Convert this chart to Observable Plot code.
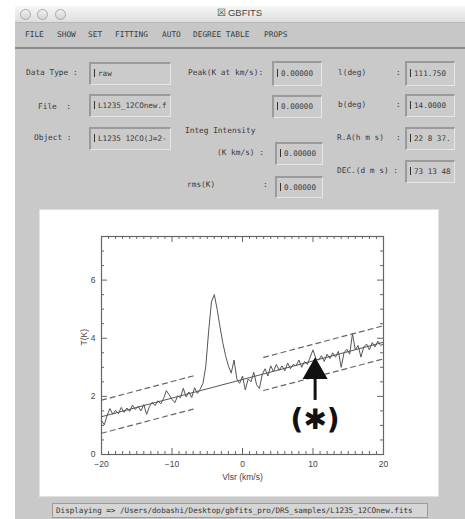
<!DOCTYPE html>
<html><head><meta charset="utf-8">
<script src="https://cdn.jsdelivr.net/npm/d3@7"></script>
<script src="https://cdn.jsdelivr.net/npm/@observablehq/plot@0.6"></script>
<style>
body{margin:0;background:#fff;width:465px;height:519px;overflow:hidden;position:relative;font-family:"DejaVu Sans Mono",monospace;color:#333;}
.abs{position:absolute;}
.win{left:15px;top:6px;width:450px;height:513px;background:#c9c9c9;}
.title{left:15px;top:6px;width:450px;height:16px;background:linear-gradient(#f6f6f6,#dedede);border-bottom:1px solid #b8b8b8;}
.light{width:9px;height:9px;border-radius:50%;border:1px solid #a9a9a9;background:linear-gradient(#f0f0f0,#d4d4d4);top:9px;}
.menu{left:15px;top:23px;width:450px;height:24px;background:#c7c7c7;border-bottom:2px solid #8c8c8c;}
.t{font-size:7.8px;line-height:10px;white-space:pre;color:#3a3a3a;}
.f{background:#cbcbcb;border-top:2px solid #9b9b9b;border-left:2px solid #9b9b9b;border-bottom:1px solid #e6e6e6;border-right:1px solid #e6e6e6;box-sizing:border-box;font-size:7.6px;line-height:10px;white-space:pre;color:#3a3a3a;padding:5px 0 0 3px;}
.cur{display:inline-block;width:2px;height:8px;border-left:1px solid #333;vertical-align:-1px;margin-right:1px;}
.panel{left:40px;top:210px;width:398px;height:286px;background:#fff;box-shadow:0 0 0 1px #e2e2e2;}
.status{left:52px;top:503px;width:376px;height:15px;background:#d6d6d6;border:1px solid #9c9c9c;box-sizing:border-box;font-size:7.6px;line-height:13px;white-space:pre;padding-left:3px;color:#333;}
</style></head>
<body>
<div class="abs win"></div>
<div class="abs title"></div>
<div class="abs light" style="left:20px"></div>
<div class="abs light" style="left:37px"></div>
<div class="abs light" style="left:55px"></div>
<div class="abs t" style="left:217px;top:8px;font-family:'Liberation Sans',sans-serif;font-size:9.5px;color:#444">&#x2612;&#x2009;GBFITS</div>
<div class="abs menu"></div>
<div class="abs t" style="left:25px;top:30px">FILE</div>
<div class="abs t" style="left:57px;top:30px">SHOW</div>
<div class="abs t" style="left:88px;top:30px">SET</div>
<div class="abs t" style="left:115px;top:30px">FITTING</div>
<div class="abs t" style="left:162px;top:30px">AUTO</div>
<div class="abs t" style="left:193px;top:30px">DEGREE TABLE</div>
<div class="abs t" style="left:264px;top:30px">PROPS</div>

<div class="abs t" style="left:26px;top:68px">Data Type :</div>
<div class="abs t" style="left:38px;top:102px">File  :</div>
<div class="abs t" style="left:34px;top:133px">Object :</div>
<div class="abs f" style="left:89px;top:62px;width:82px;height:23px"><span class="cur"></span>raw</div>
<div class="abs f" style="left:89px;top:94px;width:82px;height:23px"><span class="cur"></span>L1235_12COnew.f</div>
<div class="abs f" style="left:89px;top:127px;width:82px;height:23px"><span class="cur"></span>L1235 12CO(J=2-</div>

<div class="abs t" style="left:188px;top:68px">Peak(K at km/s):</div>
<div class="abs f" style="left:272px;top:61px;width:50px;height:25px;padding-top:6px"><span class="cur"></span>0.00000</div>
<div class="abs f" style="left:272px;top:95px;width:50px;height:23px"><span class="cur"></span>0.00000</div>
<div class="abs t" style="left:185px;top:126px">Integ Intensity</div>
<div class="abs t" style="left:217px;top:148px">(K km/s) :</div>
<div class="abs f" style="left:275px;top:142px;width:48px;height:23px"><span class="cur"></span>0.00000</div>
<div class="abs t" style="left:187px;top:180px">rms(K)</div>
<div class="abs t" style="left:263px;top:180px">:</div>
<div class="abs f" style="left:275px;top:176px;width:48px;height:22px"><span class="cur"></span>0.00000</div>

<div class="abs t" style="left:338px;top:68px">l(deg)</div>
<div class="abs t" style="left:396px;top:68px">:</div>
<div class="abs f" style="left:405px;top:61px;width:50px;height:25px;padding-top:6px"><span class="cur"></span>111.750</div>
<div class="abs t" style="left:338px;top:100px">b(deg)</div>
<div class="abs t" style="left:396px;top:100px">:</div>
<div class="abs f" style="left:405px;top:94px;width:50px;height:23px"><span class="cur"></span>14.0000</div>
<div class="abs t" style="left:337px;top:133px">R.A(h m s)</div>
<div class="abs t" style="left:396px;top:133px">:</div>
<div class="abs f" style="left:405px;top:127px;width:50px;height:23px"><span class="cur"></span>22 8 37.</div>
<div class="abs t" style="left:337px;top:166px">DEC.(d m s) :</div>
<div class="abs f" style="left:405px;top:160px;width:50px;height:23px"><span class="cur"></span>73 13 48</div>

<div class="abs panel" id="chart"></div>
<div class="abs status">Displaying =&gt; /Users/dobashi/Desktop/gbfits_pro/DRS_samples/L1235_12COnew.fits</div>

<script>
// ---- data ----
const velocity = [-20,-19.6,-19.2,-18.8,-18.4,-18,-17.6,-17.2,-16.8,-16.4,-16,-15.6,-15.2,-14.8,-14.4,-14,-13.6,-13.2,-12.8,-12.4,-12,-11.6,-11.2,-10.8,-10.4,-10,-9.6,-9.2,-8.8,-8.4,-8,-7.6,-7.2,-6.8,-6.4,-6,-5.6,-5.2,-4.8,-4.4,-4,-3.6,-3.2,-2.8,-2.4,-2,-1.6,-1.2,-0.8,-0.4,0,0.4,0.8,1.2,1.6,2,2.4,2.8,3.2,3.6,4,4.4,4.8,5.2,5.6,6,6.4,6.8,7.2,7.6,8,8.4,8.8,9.2,9.6,10,10.4,10.8,11.2,11.6,12,12.4,12.8,13.2,13.6,14,14.4,14.8,15.2,15.6,16,16.4,16.8,17.2,17.6,18,18.4,18.8,19.2,19.6,20];
const temperature = [1.17,1.02,1.35,1.58,1.38,1.52,1.40,1.62,1.45,1.60,1.48,1.70,1.55,1.66,1.50,1.72,1.38,1.65,1.80,1.68,1.85,1.74,1.92,2.20,2.05,1.90,1.78,2.02,1.95,2.28,1.98,2.15,1.96,2.30,2.10,2.25,2.45,3.05,4.25,5.25,5.50,5.00,4.40,3.85,3.40,3.05,2.80,3.25,2.60,2.45,2.70,2.22,2.60,2.50,2.83,2.40,2.27,2.75,2.95,2.70,3.05,2.85,3.10,2.90,3.05,2.88,3.15,2.95,3.10,3.05,3.25,3.00,3.20,3.10,3.35,3.60,3.30,3.25,3.40,3.20,3.45,3.30,3.50,3.35,3.55,3.00,3.50,3.62,3.45,4.15,3.60,3.75,3.35,3.70,3.80,3.60,3.85,3.70,3.90,3.75,3.80];
const baselineV = [-20, 20];
const baselineT = [1.30, 3.86];
const fitWindows = [[-20, -7], [3, 20]];
const rmsBand = 0.57;
const xTicks = [-20, -10, 0, 10, 20];
const yTicks = [0, 2, 4, 6];
const xLabel = "Vlsr (km/s)";
const yLabel = "T(K)";
const arrowV = 10.3, arrowTipT = 3.34, arrowTailT = 1.86;
const markText = "(✱)";
const markT = 1.17;

// ---- build ----
const spectrum = velocity.map((v, i) => ({v, t: temperature[i]}));
const slope = (baselineT[1] - baselineT[0]) / (baselineV[1] - baselineV[0]);
const fit = v => baselineT[0] + slope * (v - baselineV[0]);
const baseline = baselineV.map((v, i) => ({v, t: baselineT[i]}));
const dashed = fitWindows.flatMap(([a, b], i) => [
  {v: a, t: fit(a) + rmsBand, k: i + "u"}, {v: b, t: fit(b) + rmsBand, k: i + "u"},
  {v: a, t: fit(a) - rmsBand, k: i + "l"}, {v: b, t: fit(b) - rmsBand, k: i + "l"}
]);
const xMinor = d3.range(-20, 21, 1).filter(d => !xTicks.includes(d));
const yMinor = d3.range(0, 7.51, 0.5).filter(d => !yTicks.includes(d));

const W = 398, H = 286, mL = 61, mR = 55, mT = 26, mB = 42;
const iw = W - mL - mR, ih = H - mT - mB;
const stroke = "#555";

const plot = Plot.plot({
  width: W, height: H,
  marginLeft: mL, marginRight: mR, marginTop: mT, marginBottom: mB,
  style: {background: "#fff", fontFamily: "'Liberation Sans', Arial, sans-serif", fontSize: "8.5px", color: "#444"},
  x: {domain: [-20, 20], ticks: xTicks, tickSize: 0, tickPadding: 6, label: null},
  y: {domain: [0, 7.5], ticks: yTicks, tickSize: 0, tickPadding: 6, label: null},
  marks: [
    Plot.frame({stroke: "#666", strokeWidth: 1.2}),
    // major ticks
    Plot.tickX(xTicks, {x: d => d, insetTop: ih - 6, stroke: "#666"}),
    Plot.tickX(xTicks, {x: d => d, insetBottom: ih - 6, stroke: "#666"}),
    Plot.tickY(yTicks, {y: d => d, insetRight: iw - 6, stroke: "#666"}),
    Plot.tickY(yTicks, {y: d => d, insetLeft: iw - 6, stroke: "#666"}),
    // minor ticks
    Plot.tickX(xMinor, {x: d => d, insetTop: ih - 3, stroke: "#666"}),
    Plot.tickX(xMinor, {x: d => d, insetBottom: ih - 3, stroke: "#666"}),
    Plot.tickY(yMinor, {y: d => d, insetRight: iw - 3, stroke: "#666"}),
    Plot.tickY(yMinor, {y: d => d, insetLeft: iw - 3, stroke: "#666"}),
    // baseline fit and error band
    Plot.line(baseline, {x: "v", y: "t", stroke: stroke, strokeWidth: 1}),
    Plot.line(dashed, {x: "v", y: "t", z: "k", stroke: "#666", strokeWidth: 1.2, strokeDasharray: "5,4"}),
    // spectrum
    Plot.line(spectrum, {x: "v", y: "t", stroke: stroke, strokeWidth: 1}),
    // annotation arrow
    Plot.ruleX([arrowV], {y1: arrowTailT, y2: arrowTipT - 0.5, stroke: "#111", strokeWidth: 3}),
    Plot.dot([arrowV], {x: d => d, y: arrowTipT, symbol: "triangle", r: 9.3, fill: "#111", stroke: "none", dy: 14.4}),
    Plot.text([markText], {x: arrowV, y: markT, text: d => d, fontSize: 28, fontWeight: "bold", fill: "#111", fontFamily: "'DejaVu Sans', sans-serif"}),
    // axis labels
    Plot.text([xLabel], {frameAnchor: "bottom", dy: 25, text: d => d, fontSize: 8.5, fill: "#444"}),
    Plot.text([yLabel], {frameAnchor: "left", dx: -17, rotate: -90, text: d => d, fontSize: 8.5, fill: "#444"})
  ]
});
document.getElementById("chart").appendChild(plot);
</script>
</body></html>
